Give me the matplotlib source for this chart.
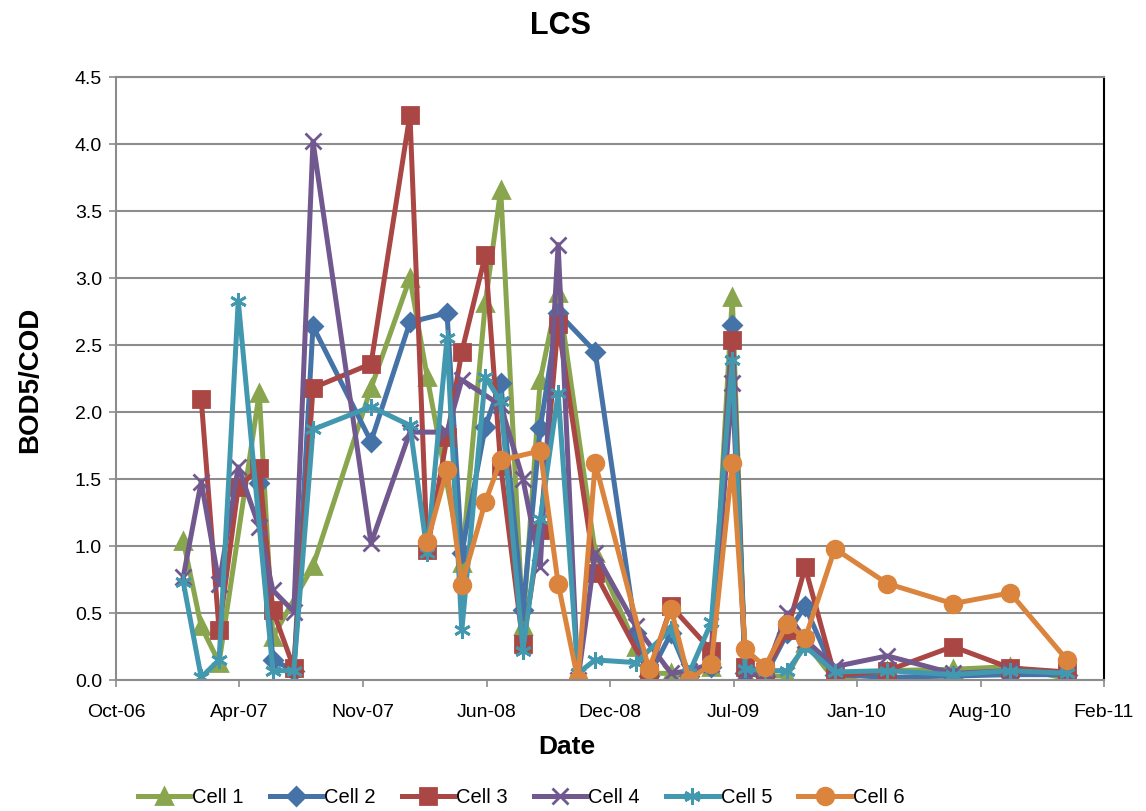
import matplotlib
matplotlib.use("Agg")
import matplotlib.pyplot as plt
import matplotlib.dates as mdates
import numpy as np
import datetime as dt

plt.rcParams['font.family'] = ['Liberation Sans', 'DejaVu Sans']

# sampling dates (shared by all cells, None = no sample for that cell)
dates = ['2007-01-27', '2007-02-25', '2007-03-26', '2007-04-26', '2007-05-30',
         '2007-06-21', '2007-07-25', '2007-08-25', '2007-11-27', '2008-01-29',
         '2008-02-26', '2008-03-29', '2008-04-22', '2008-05-30', '2008-06-24',
         '2008-07-30', '2008-08-27', '2008-09-25', '2008-10-27', '2008-11-24',
         '2009-01-29', '2009-02-19', '2009-03-27', '2009-04-25', '2009-05-31',
         '2009-07-04', '2009-07-25', '2009-08-26', '2009-10-01', '2009-10-30',
         '2009-12-17', '2010-03-12', '2010-06-26', '2010-09-27', '2010-12-28']

cell1 = [1.04, 0.40, 0.13, None, 2.14, 0.32, None, 0.85, 2.18, 3.00,
         2.26, None, 0.87, 2.81, 3.66, 0.40, 2.24, 2.89, None, 0.95,
         0.25, 0.05, 0.05, 0.03, 0.10, 2.86, 0.05, 0.03, 0.03, 0.28,
         0.00, 0.07, 0.08, 0.10, 0.01]
cell2 = [None, None, None, None, 1.47, 0.15, 0.07, 2.64, 1.78, 2.67,
         None, 2.74, 0.95, 1.89, 2.22, 0.52, 1.88, 2.74, None, 2.45,
         0.35, 0.03, 0.35, 0.03, 0.10, 2.65, 0.05, 0.03, 0.35, 0.55,
         0.04, 0.02, 0.03, 0.04, 0.04]
cell3 = [None, 2.10, 0.37, 1.44, 1.58, 0.52, 0.09, 2.18, 2.36, 4.22,
         0.97, 1.81, 2.45, 3.17, 1.60, 0.27, 1.12, 2.66, None, 0.80,
         None, 0.05, 0.55, None, 0.22, 2.54, 0.10, 0.06, 0.37, 0.84,
         0.03, 0.07, 0.25, 0.09, 0.06]
cell4 = [0.77, 1.48, 0.72, 1.59, 1.14, 0.67, 0.51, 4.02, 1.02, 1.85,
         None, 1.85, 2.24, None, 2.05, 1.50, 0.84, 3.25, 0.00, 0.95,
         0.40, None, 0.05, 0.07, 0.12, 2.22, 0.05, 0.05, 0.50, 0.30,
         0.10, 0.18, 0.05, 0.07, 0.05]
cell5 = [0.73, 0.02, 0.15, 2.83, None, 0.07, 0.07, 1.87, 2.04, 1.90,
         0.95, 2.55, 0.37, 2.26, 2.08, 0.22, 1.20, 2.14, 0.05, 0.15,
         0.13, None, 0.38, 0.05, 0.43, 2.39, 0.08, 0.07, 0.07, 0.25,
         0.06, 0.07, 0.04, 0.07, 0.05]
cell6 = [None, None, None, None, None, None, None, None, None, None,
         1.03, 1.57, 0.71, 1.33, 1.64, None, 1.71, 0.72, 0.00, 1.62,
         None, 0.08, 0.53, 0.00, 0.12, 1.62, 0.23, 0.10, 0.42, 0.31,
         0.98, 0.72, 0.57, 0.65, 0.15]

series = [
    ('Cell 1', cell1, '#89A54E', '^', 11),
    ('Cell 2', cell2, '#4572A7', 'D', 9),
    ('Cell 3', cell3, '#AA4643', 's', 11),
    ('Cell 4', cell4, '#71588F', 'x', 11),
    ('Cell 5', cell5, '#4198AF', (6, 2, 0), 12),
    ('Cell 6', cell6, '#DB843D', 'o', 12),
]

x_all = [dt.datetime.strptime(d, '%Y-%m-%d') for d in dates]

fig = plt.figure(figsize=(11.46, 8.11), dpi=100)
ax = fig.add_axes([0.1012, 0.1615, 0.8622, 0.7435])

for name, vals, col, mk, ms in series:
    xs = [x for x, v in zip(x_all, vals) if v is not None]
    ys = [v for v in vals if v is not None]
    ax.plot(xs, ys, color=col, lw=3.6, marker=mk, ms=ms, mew=2,
            mec=col, mfc=col, label=name, solid_joinstyle='round')

start = dt.datetime(2006, 10, 10)
ax.set_xlim(start, dt.datetime(2011, 2, 26))
ax.set_xticks([start + dt.timedelta(days=200 * i) for i in range(9)])
ax.xaxis.set_major_formatter(mdates.DateFormatter('%b-%y'))
ax.set_ylim(0, 4.5)
ax.set_yticks(np.arange(0, 4.51, 0.5))
ax.yaxis.set_major_formatter(matplotlib.ticker.FormatStrFormatter('%.1f'))
ax.yaxis.grid(True, color='#8C8C8C', lw=1.5)
ax.set_axisbelow(True)

for s in ['left', 'bottom', 'top']:
    ax.spines[s].set_color('#8C8C8C')
    ax.spines[s].set_linewidth(1.5)
ax.spines['right'].set_color('black')
ax.spines['right'].set_linewidth(1.5)
ax.tick_params(axis='both', labelsize=14, length=5, width=1.2, color='#8C8C8C')
ax.tick_params(axis='x', pad=12)
ax.tick_params(axis='y', pad=5)

fig.text(567 / 1146, 1 - 747 / 811, 'Date', fontsize=19, fontweight='bold',
         ha='center', va='center')
fig.text(30 / 1146, 1 - 380 / 811, 'BOD5/COD', fontsize=20, fontweight='bold',
         ha='center', va='center', rotation=90)
fig.text(0.489, 0.968, 'LCS', fontsize=22, fontweight='bold', ha='center', va='center')

ax.legend(loc='center', bbox_to_anchor=(0.41, -0.195), ncol=6, frameon=False,
          fontsize=14.5, handlelength=2.6, columnspacing=1.3, handletextpad=0.1)

fig.savefig('out.png', dpi=100)
